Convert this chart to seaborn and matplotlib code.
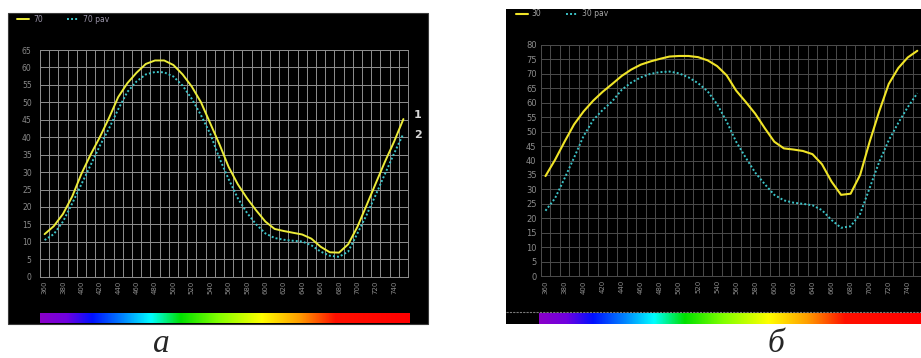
import numpy as np
import pandas as pd
import matplotlib
matplotlib.use("Agg")
import matplotlib.pyplot as plt
import seaborn as sns
from matplotlib.patches import Rectangle
from matplotlib.lines import Line2D
from matplotlib.colors import LinearSegmentedColormap

# ---------------- data ----------------
wavelength = [360, 370, 380, 390, 400, 410, 420, 430, 440, 450,
              460, 470, 480, 490, 500, 510, 520, 530, 540, 550,
              560, 570, 580, 590, 600, 610, 620, 630, 640, 650,
              660, 670, 680, 690, 700, 710, 720, 730, 740, 750]

a_70 = [12.2, 14.5, 18, 23, 29.5, 35, 40, 45.5, 51.5, 55.5,
        58.5, 61, 62, 62, 60.7, 58, 54.5, 50, 44, 38,
        31.5, 26.5, 22.5, 19, 15.8, 13.7, 13.1, 12.6, 12.1, 10.9,
        8.6, 7, 6.9, 9.3, 14.3, 20.5, 26.8, 33, 38.8, 45.2]
a_70pav = [10.5, 12.2, 15.8, 21, 26.5, 32, 37.5, 42.5, 48, 53,
           56, 58, 58.7, 58.6, 57.4, 54.8, 51, 46.3, 41, 34,
           28, 22.5, 18.3, 15, 12.4, 11.1, 10.6, 10.3, 10.1, 9,
           7.2, 6, 5.7, 7.2, 12.4, 17.7, 23.5, 29.5, 35.4, 41]

b_30 = [34.6, 40.2, 46.5, 52.5, 57, 60.7, 63.8, 66.5, 69.3, 71.5,
        73.2, 74.3, 75.2, 76, 76.2, 76.2, 75.8, 74.7, 72.7, 69.5,
        64.2, 60.3, 56.2, 51.2, 46.5, 44.2, 43.8, 43.3, 42.2, 38.7,
        32.7, 28.1, 28.5, 35, 46.5, 57, 66.5, 72, 75.7, 78]
b_30pav = [22.6, 26.9, 33.8, 41, 48.5, 54, 57.5, 60.5, 64.5, 67,
           68.8, 70, 70.6, 70.8, 70.2, 68.8, 66.8, 64, 59.5, 53.5,
           46.5, 41, 35.8, 31.8, 28.1, 26.2, 25.4, 25, 24.5, 22.8,
           19.4, 16.7, 17.2, 21.5, 30.5, 39.5, 47, 53, 58.5, 63.3]

xtick_labels = [360, 380, 400, 420, 440, 460, 480, 500, 520, 540,
                560, 580, 600, 620, 640, 660, 680, 700, 720, 740]

series_a = ["70", "70 pav"]
series_b = ["30", "30 pav"]
panel_labels = ["а", "б"]
curve_numbers = ["1", "2"]

# ---------------- figure ----------------
sns.set_theme(style="dark")
plt.rcParams["font.family"] = ["DejaVu Sans"]

W, H = 921, 358
fig = plt.figure(figsize=(W / 100, H / 100), dpi=100)
fig.patch.set_facecolor("white")


def rect(x0, y0, x1, y1):
    return [x0 / W, 1 - y1 / H, (x1 - x0) / W, (y1 - y0) / H]


def fig_box(x0, y0, x1, y1, **kw):
    fig.add_artist(Rectangle((x0 / W, 1 - y1 / H), (x1 - x0) / W, (y1 - y0) / H,
                             transform=fig.transFigure, **kw))


# black backgrounds
fig_box(8, 13, 428, 324, facecolor="black", edgecolor="#3a3a3a", lw=0.8, zorder=0)
fig_box(506, 9, 925, 324, facecolor="black", edgecolor="none", zorder=0)

df_a = pd.DataFrame({"wl": wavelength * 2,
                     "val": a_70 + a_70pav,
                     "series": [series_a[0]] * len(wavelength) + [series_a[1]] * len(wavelength)})
df_b = pd.DataFrame({"wl": wavelength * 2,
                     "val": b_30 + b_30pav,
                     "series": [series_b[0]] * len(wavelength) + [series_b[1]] * len(wavelength)})


def style_axes(ax, ymax, gridc, ycolor, yfs, ypad):
    ax.set_facecolor("black")
    ax.set_xlim(355, 755)
    ax.set_ylim(0, ymax)
    ax.set_xticks(xtick_labels)
    ax.set_xticklabels([str(v) for v in xtick_labels], rotation=90,
                       fontsize=5, color="#8c8c8c")
    ax.set_xticks(np.arange(355, 756, 10), minor=True)
    ax.set_yticks(np.arange(0, ymax + 1, 5))
    ax.set_yticklabels([str(v) for v in np.arange(0, ymax + 1, 5)],
                       fontsize=yfs, color=ycolor)
    ax.tick_params(axis="x", which="major", length=0, pad=3)
    ax.tick_params(axis="x", which="minor", length=7, width=0.6,
                   color=gridc, direction="out")
    ax.tick_params(axis="y", length=0, pad=ypad)
    ax.grid(False)
    ax.grid(True, which="minor", axis="x", color=gridc, lw=0.7)
    ax.grid(True, which="major", axis="y", color=gridc, lw=0.7)
    for s in ax.spines.values():
        s.set_color(gridc)
        s.set_linewidth(0.7)
    ax.set_xlabel("")
    ax.set_ylabel("")


# ---------------- panel а ----------------
axa = fig.add_axes(rect(40, 50, 408, 276.7))
sns.lineplot(data=df_a[df_a.series == series_a[0]], x="wl", y="val", ax=axa,
             color="#ecec3a", lw=1.4, label=series_a[0])
sns.lineplot(data=df_a[df_a.series == series_a[1]], x="wl", y="val", ax=axa,
             color="#3cc4c8", lw=1.4, linestyle=(0, (1, 1.1)), label=series_a[1])
style_axes(axa, 65, "#8f8f8f", "#8a8a8a", 5.5, 6)
leg = axa.legend(loc="center left", bbox_to_anchor=(13 / W, 1 - 19 / H),
                 bbox_transform=fig.transFigure, ncol=2, frameon=False,
                 fontsize=5.5, handlelength=1.6, columnspacing=3.2,
                 handletextpad=0.5, borderpad=0)
for t in leg.get_texts():
    t.set_color("#9a94a8")

# ---------------- panel б ----------------
axb = fig.add_axes(rect(540.7, 45, 922.1, 276))
sns.lineplot(data=df_b[df_b.series == series_b[0]], x="wl", y="val", ax=axb,
             color="#f0e428", lw=1.5, label=series_b[0])
sns.lineplot(data=df_b[df_b.series == series_b[1]], x="wl", y="val", ax=axb,
             color="#3cc4c8", lw=1.4, linestyle=(0, (1, 1.1)), label=series_b[1])
style_axes(axb, 80, "#4c4c4c", "#8c8c8c", 6, 3)
leg = axb.legend(loc="center left", bbox_to_anchor=(512 / W, 1 - 14 / H),
                 bbox_transform=fig.transFigure, ncol=2, frameon=False,
                 fontsize=5.5, handlelength=1.6, columnspacing=3.2,
                 handletextpad=0.5, borderpad=0)
for t in leg.get_texts():
    t.set_color("#a8a8a8")

# curve numbers
fig.text(418 / W, 1 - 115 / H, curve_numbers[0], color="#d8d8d8", fontsize=8,
         fontweight="bold", ha="center", va="center")
fig.text(418 / W, 1 - 135 / H, curve_numbers[1], color="#d8d8d8", fontsize=8,
         fontweight="bold", ha="center", va="center")

# spectrum bars
spec = LinearSegmentedColormap.from_list("spec", [
    (0.0, "#8a00c8"), (0.07, "#7000e0"), (0.14, "#0010ff"), (0.22, "#0080ff"),
    (0.30, "#00ffff"), (0.38, "#00e000"), (0.48, "#80ff00"), (0.60, "#ffff00"),
    (0.70, "#ffa000"), (0.80, "#ff1000"), (1.0, "#ff0000")])
grad = np.linspace(0, 1, 512)[None, :]
for box in [(40, 313, 409, 323), (539, 313, 922, 324)]:
    sa = fig.add_axes(rect(*box))
    sa.imshow(grad, aspect="auto", cmap=spec)
    sa.set_axis_off()
fig.add_artist(Line2D([506 / W, 1], [1 - 311.5 / H, 1 - 311.5 / H],
                      transform=fig.transFigure, color="#7a7a7a", lw=0.8,
                      linestyle=(0, (2, 1))))

# panel labels
fig.text(161 / W, 1 - 352 / H, panel_labels[0], fontsize=24, style="italic",
         family=["Liberation Serif", "DejaVu Serif"], ha="center", va="baseline")
fig.text(776 / W, 1 - 352 / H, panel_labels[1], fontsize=24, style="italic",
         family=["Liberation Serif", "DejaVu Serif"], ha="center", va="baseline")

fig.savefig("out.png", dpi=100, facecolor="white")
